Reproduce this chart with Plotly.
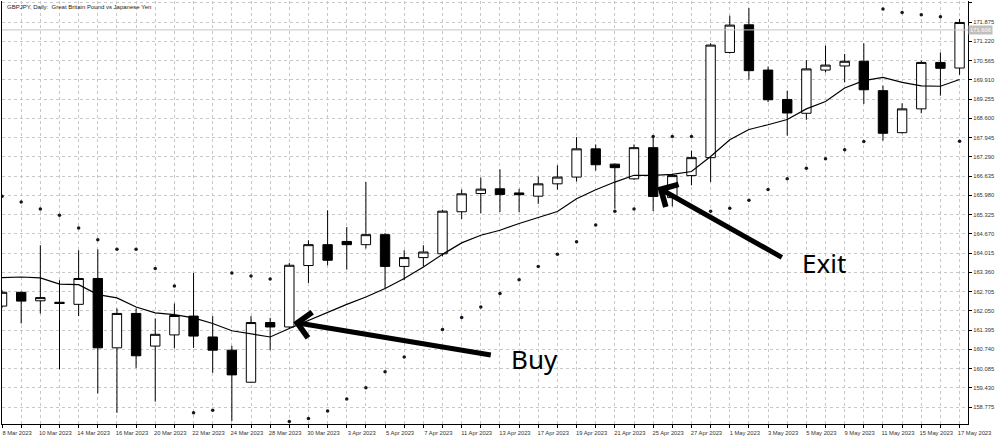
import plotly.graph_objects as go

DATES = [
    "8 Mar 2023", "9 Mar 2023", "10 Mar 2023", "13 Mar 2023", "14 Mar 2023", "15 Mar 2023",
    "16 Mar 2023", "17 Mar 2023", "20 Mar 2023", "21 Mar 2023", "22 Mar 2023", "23 Mar 2023",
    "24 Mar 2023", "27 Mar 2023", "28 Mar 2023", "29 Mar 2023", "30 Mar 2023", "31 Mar 2023",
    "3 Apr 2023", "4 Apr 2023", "5 Apr 2023", "6 Apr 2023", "7 Apr 2023", "10 Apr 2023",
    "11 Apr 2023", "12 Apr 2023", "13 Apr 2023", "14 Apr 2023", "17 Apr 2023", "18 Apr 2023",
    "19 Apr 2023", "20 Apr 2023", "21 Apr 2023", "24 Apr 2023", "25 Apr 2023", "26 Apr 2023",
    "27 Apr 2023", "28 Apr 2023", "1 May 2023", "2 May 2023", "3 May 2023", "4 May 2023",
    "5 May 2023", "8 May 2023", "9 May 2023", "10 May 2023", "11 May 2023", "12 May 2023",
    "15 May 2023", "16 May 2023", "17 May 2023",
]

OPEN = [
    162.21, 162.68, 162.39, 162.34, 162.27, 163.15, 160.79, 161.96, 160.85, 161.23,
    161.87, 161.16, 160.71, 159.62, 161.65, 161.50, 163.59, 164.30, 164.41, 164.30,
    164.64, 163.56, 163.86, 163.99, 165.42, 166.04, 166.20, 166.06, 165.95, 166.37,
    166.60, 167.56, 167.04, 166.54, 167.60, 165.90, 166.65, 167.26, 170.84, 171.78,
    170.24, 169.24, 168.77, 170.24, 170.38, 170.54, 169.54, 168.11, 168.92, 170.50,
    170.31,
]
HIGH = [
    162.75, 162.70, 164.28, 163.09, 164.11, 164.14, 162.13, 162.13, 161.79, 162.30,
    163.34, 161.87, 160.86, 161.87, 161.81, 163.68, 164.45, 165.47, 164.90, 166.43,
    164.70, 164.11, 164.28, 165.49, 166.18, 166.58, 166.86, 166.20, 166.62, 167.00,
    167.96, 167.71, 167.06, 167.71, 167.98, 166.72, 167.50, 171.15, 172.09, 172.35,
    170.36, 169.54, 170.58, 171.07, 170.79, 171.15, 169.71, 169.11, 170.56, 170.84,
    171.98,
]
LOW = [
    162.15, 161.62, 161.96, 160.06, 161.87, 159.24, 158.58, 160.11, 158.96, 160.77,
    160.79, 159.94, 158.30, 159.60, 160.71, 161.45, 163.00, 163.60, 163.45, 164.17,
    162.81, 163.09, 163.56, 163.90, 165.17, 165.37, 165.41, 165.41, 165.69, 166.17,
    166.45, 166.82, 165.52, 166.50, 165.44, 165.60, 166.32, 166.43, 170.80, 169.91,
    169.15, 168.01, 168.55, 170.16, 169.82, 169.09, 167.84, 168.08, 168.77, 169.37,
    170.08,
]
CLOSE = [
    162.68, 162.38, 162.50, 162.30, 163.15, 160.79, 161.96, 160.52, 161.25, 161.89,
    161.19, 160.71, 159.87, 161.65, 161.50, 163.60, 164.30, 163.77, 164.30, 164.64,
    163.56, 163.86, 164.05, 165.44, 166.03, 166.19, 166.01, 166.00, 166.37, 166.60,
    167.56, 167.02, 166.92, 167.60, 165.94, 166.65, 167.26, 171.09, 171.77, 170.22,
    169.23, 168.78, 170.28, 170.41, 170.54, 169.57, 168.09, 168.92, 170.50, 170.30,
    171.86,
]

MOVING_AVG = [
    163.18, 163.20, 163.17, 162.96, 162.94, 162.60, 162.49, 162.18, 161.98, 161.92,
    161.81, 161.62, 161.37, 161.26, 161.16, 161.45, 161.73, 162.01, 162.27, 162.52,
    162.81, 163.15, 163.54, 163.97, 164.36, 164.62, 164.79, 165.02, 165.22, 165.43,
    165.86, 166.17, 166.43, 166.66, 166.66, 166.69, 166.79, 167.30, 167.87, 168.22,
    168.38, 168.56, 168.92, 169.17, 169.63, 169.88, 169.99, 169.82, 169.70, 169.69,
    169.92,
]

PARABOLIC_SAR = [
    165.95, 165.75, 165.51, 165.30, 164.87, 164.47, 164.14, 164.14, 163.49, 162.89,
    158.58, 158.67, 163.34, 163.23, 163.13, 158.28, 158.39, 158.64, 159.05, 159.43,
    159.98, 160.48, 160.95, 161.41, 161.82, 162.18, 162.64, 163.11, 163.56, 163.97,
    164.40, 164.97, 165.44, 165.51, 167.98, 167.98, 167.98, 165.44, 165.54, 165.81,
    166.18, 166.54, 166.90, 167.22, 167.53, 167.81, 172.32, 172.20, 172.12, 172.05,
    167.82,
]

PRICE_TICKS = [
    158.775, 159.430, 160.085, 160.740, 161.395, 162.050, 162.705, 163.360, 164.015,
    164.670, 165.325, 165.980, 166.635, 167.290, 167.945, 168.600, 169.255, 169.910,
    170.565, 171.220, 171.875, 172.530,
]
BID_PRICE = 171.606

# signal callouts: (bar, price) of arrow tip and tail, text anchor
BUY_TIP, BUY_TAIL, BUY_TEXT = (15.21, 161.66), (25.6, 160.54), (27.8, 160.40)
EXIT_TIP, EXIT_TAIL, EXIT_TEXT = (34.22, 166.25), (40.8, 163.84), (42.9, 163.66)

TICK_FONT = dict(family="Liberation Sans", size=5.8, color="#333333")
GRID = "#c8c8c8"

bars = list(range(len(DATES)))

fig = go.Figure()

fig.add_trace(go.Candlestick(
    x=bars, open=OPEN, high=HIGH, low=LOW, close=CLOSE,
    increasing=dict(fillcolor="#ffffff", line=dict(color="#000000", width=1)),
    decreasing=dict(fillcolor="#000000", line=dict(color="#000000", width=1)),
    whiskerwidth=0,
    showlegend=False,
    hoverinfo="skip",
))

fig.add_trace(go.Scatter(
    x=bars, y=MOVING_AVG,
    mode="lines",
    line=dict(color="#000000", width=1.2),
    showlegend=False,
    hoverinfo="skip",
))

fig.add_trace(go.Scatter(
    x=bars, y=PARABOLIC_SAR,
    mode="markers",
    marker=dict(color="#151525", size=3.5),
    showlegend=False,
    hoverinfo="skip",
))

annotations = [
    dict(
        x=0.003, y=0.998, xref="paper", yref="paper",
        text="GBPJPY, Daily:  Great Britain Pound vs Japanese Yen",
        showarrow=False, xanchor="left", yanchor="top",
        font=dict(family="Liberation Sans", size=6, color="#222222"),
    ),
    dict(
        x=1, y=BID_PRICE, xref="paper", yref="y",
        text=f"{BID_PRICE:.3f}",
        showarrow=False, xanchor="left", yanchor="middle",
        bgcolor="#c0c0c0", borderpad=1,
        font=dict(family="Liberation Sans", size=5.8, color="#ffffff"),
    ),
]
for tip, tail, label, pos in [(BUY_TIP, BUY_TAIL, "Buy", BUY_TEXT),
                              (EXIT_TIP, EXIT_TAIL, "Exit", EXIT_TEXT)]:
    annotations.append(dict(
        x=tip[0], y=tip[1], ax=tail[0], ay=tail[1],
        xref="x", yref="y", axref="x", ayref="y",
        text="", showarrow=True,
        arrowhead=4, arrowsize=1, arrowwidth=5, arrowcolor="#000000",
        standoff=0,
    ))
    annotations.append(dict(
        x=pos[0], y=pos[1], xref="x", yref="y",
        text=label, showarrow=False,
        xanchor="center", yanchor="middle",
        font=dict(family="Noto Sans", size=26, color="#000000"),
    ))

fig.update_layout(
    width=1000, height=438,
    margin=dict(l=2, r=32, t=1, b=14),
    paper_bgcolor="#ffffff",
    plot_bgcolor="#ffffff",
    showlegend=False,
    annotations=annotations,
    shapes=[dict(
        type="line", xref="paper", yref="y",
        x0=0, x1=1, y0=BID_PRICE, y1=BID_PRICE,
        line=dict(color="#c4c4c4", width=1),
    )],
    xaxis=dict(
        range=[-0.002, 50.44],
        tickmode="array",
        tickvals=bars,
        ticktext=[d if i % 2 == 0 else "" for i, d in enumerate(DATES)],
        ticklabelshift=15,
        ticks="outside", ticklen=3, tickcolor="#000000",
        tickfont=TICK_FONT,
        showgrid=True, gridcolor=GRID, griddash="3px,3px", gridwidth=1,
        showline=True, linecolor="#000000", linewidth=1,
        zeroline=False,
        rangeslider=dict(visible=False),
        fixedrange=True,
    ),
    yaxis=dict(
        side="right",
        range=[158.199, 172.590],
        tickmode="array",
        tickvals=PRICE_TICKS,
        tickformat=".3f",
        ticks="outside", ticklen=3, tickcolor="#000000",
        tickfont=TICK_FONT,
        showgrid=True, gridcolor=GRID, griddash="3px,3px", gridwidth=1,
        showline=True, mirror=True, linecolor="#000000", linewidth=1,
        zeroline=False,
        fixedrange=True,
    ),
)

# the page body has a default 8px margin; drop it so the figure fills the window
fig.write_html(
    "out.html",
    config={"displayModeBar": False},
    post_script="document.body.style.margin='0';document.body.style.overflow='hidden';",
)
